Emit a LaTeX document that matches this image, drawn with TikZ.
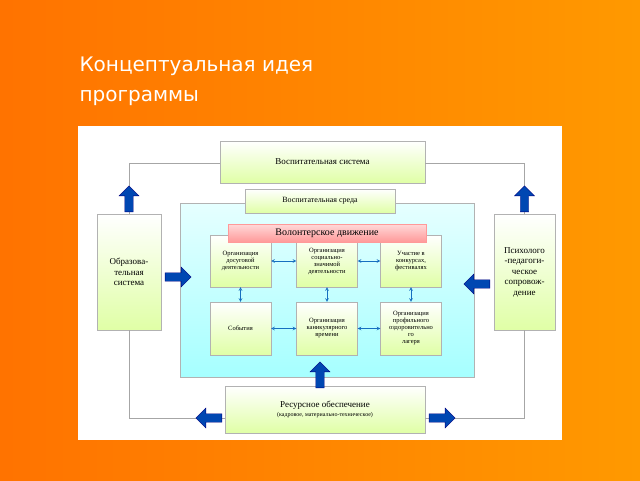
\documentclass[tikz,border=0pt]{standalone}
\usepackage{fontspec}
\setmainfont{Liberation Serif}
\newfontfamily\titlef{DejaVu Sans}
\usetikzlibrary{shapes.arrows}
\begin{document}
\begin{tikzpicture}[x=1pt,y=-1pt,
 gbox/.style={draw=gray!60,top color=white,bottom color=green!35!yellow!35,font=\fontsize{6.5}{7}\selectfont,align=center,inner sep=1pt},
 bigtxt/.style={font=\fontsize{9}{10.5}\selectfont},
 barrow/.style={single arrow,draw=blue!50!black,fill=blue!60!cyan!70!black,minimum height=26pt,minimum width=20pt,single arrow head extend=3pt,inner sep=2pt},
 conn/.style={gray!70,line width=0.8pt},
 small/.style={<->,cyan!50!blue,line width=0.6pt,>=stealth}]
\useasboundingbox (0,0) rectangle (640,480);
\shade[left color=orange!90!red,right color=orange!80!yellow] (0,0) rectangle (640,480);
\node[anchor=north west,text=white,align=left,font=\titlef\fontsize{20}{30}\selectfont] (t) at (76,53) {Концептуальная идея\\программы};
\fill[white] (78,126) rectangle (562,440);
\node[draw=gray!60,top color=cyan!10,bottom color=cyan!35,minimum width=294pt,minimum height=174pt] (env) at (327,290) {};
\coordinate (c1) at (129,163); \coordinate (c2) at (524.5,163);
\coordinate (c3) at (129,418); \coordinate (c4) at (524.5,418);
\node[gbox,bigtxt,minimum width=205pt,minimum height=42pt] (sys) at (322.5,162) {Воспитательная система};
\node[gbox,font=\fontsize{8}{9}\selectfont,minimum width=150pt,minimum height=24pt] (sr) at (320,201) {Воспитательная среда};
\node[gbox,bigtxt,minimum width=64pt,minimum height=116pt] (L) at (129,272) {Образова-\\тельная\\система};
\node[gbox,bigtxt,minimum width=61pt,minimum height=116pt] (R) at (524.5,272) {Психолого\\-педагоги-\\ческое\\сопровож-\\дение};
\node[gbox,bigtxt,minimum width=200pt,minimum height=47pt] (res) at (325,409.5) {Ресурсное обеспечение\\[-1pt]{\fontsize{6}{7}\selectfont (кадровое, материально-техническое)}};
\node[gbox,minimum width=61pt,minimum height=52pt] (a1) at (240.5,261) {Организация\\досуговой\\деятельности};
\node[gbox,minimum width=61pt,minimum height=52pt] (a2) at (327,261) {Организация\\социально-\\значимой\\деятельности};
\node[gbox,minimum width=61pt,minimum height=52pt] (a3) at (411,261) {Участие в\\конкурсах,\\фестивалях};
\node[gbox,minimum width=61pt,minimum height=53pt] (b1) at (240.5,328.5) {События};
\node[gbox,minimum width=61pt,minimum height=53pt] (b2) at (327,328.5) {Организация\\каникулярного\\времени};
\node[gbox,minimum width=61pt,minimum height=53pt] (b3) at (411,328.5) {Организация\\профильного\\оздоровительно\\го\\лагеря};
\node[draw=red!40,top color=red!15,bottom color=red!40,minimum width=198pt,minimum height=18pt,font=\fontsize{10}{11}\selectfont] (vol) at (327,233) {Волонтерское движение};
\draw[small] (a1) -- (a2); \draw[small] (a2) -- (a3);
\draw[small] (b1) -- (b2); \draw[small] (b2) -- (b3);
\draw[small] (a1) -- (b1); \draw[small] (a2) -- (b2); \draw[small] (a3) -- (b3);
\draw[conn] (L.north) -- (c1) -- (c1 -| sys.west);
\draw[conn] (R.north) -- (c2) -- (c2 -| sys.east);
\draw[conn] (L.south) -- (c3) -- (c3 -| res.west);
\draw[conn] (R.south) -- (c4) -- (c4 -| res.east);
\node[barrow,rotate=90] (u1) at (129,201) {};
\node[barrow,rotate=90] (u2) at (524.5,201) {};
\node[barrow] (r1) at (176,277) {};
\node[barrow,rotate=180] (l1) at (479,284) {};
\node[barrow,rotate=90] (u3) at (320,377) {};
\node[barrow,rotate=180] (l2) at (211,418) {};
\node[barrow] (r2) at (440,418) {};
\end{tikzpicture}
\end{document}
